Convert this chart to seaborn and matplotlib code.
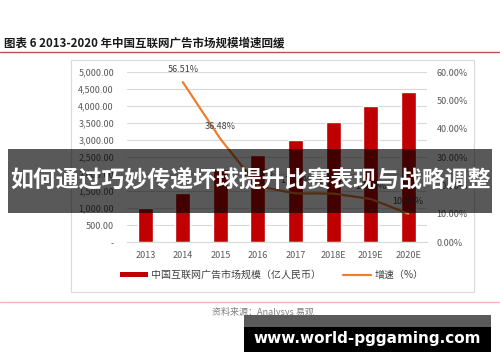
import numpy as np
import pandas as pd
import matplotlib
matplotlib.use("Agg")
import matplotlib.pyplot as plt
import seaborn as sns
from matplotlib.patches import Rectangle, Patch
from matplotlib.lines import Line2D

# -----------------------------
# Data
# -----------------------------

years = ["2013", "2014", "2015", "2016", "2017", "2018E", "2019E", "2020E"]
market_size = [1020, 1460, 2150, 2570, 3010, 3530, 4020, 4430]
growth = [np.nan, 56.51, 36.48, 19.78, 17.26, 17.21, 15.30, 10.08]

title_text = "图表 6 2013-2020 年中国互联网广告市场规模增速回缓"
bar_label = "中国互联网广告市场规模（亿人民币）"
line_label = "增速（%）"
source_text = "资料来源：Analysys 易观"
banner_text = "如何通过巧妙传递坏球提升比赛表现与战略调整"
watermark_text = "www.world-pggaming.com"

bar_color = "#C00000"
line_color = "#ED7D31"
tick_color = "#595959"
grid_color = "#D9D9D9"

# -----------------------------
# Style
# -----------------------------

sns.set_theme(style="white")
plt.rcParams['font.family'] = ['Noto Sans CJK SC', 'DejaVu Sans']
plt.rcParams['axes.unicode_minus'] = False

W, H = 500, 362
fig = plt.figure(figsize=(W / 100, H / 100), dpi=100)

# chart frame
fig.patches.append(Rectangle((70.7 / W, 1 - 292 / H), (474 - 70.7) / W, (292 - 60) / H,
                             transform=fig.transFigure, fill=False,
                             edgecolor="#D9D9D9", lw=0.8, zorder=0))

ax = fig.add_axes([126.5 / W, 1 - 242.3 / H, (427 - 126.5) / W, 170 / H])

df = pd.DataFrame({"year": years, "size": market_size, "growth": growth})

sns.barplot(data=df, x="year", y="size", color=bar_color, width=0.4,
            saturation=1, ax=ax, zorder=2)

ax.set_ylim(0, 5000)
ax.set_yticks(np.arange(0, 5001, 500))
ax.set_yticklabels(["-" if v == 0 else f"{v:,.2f}" for v in np.arange(0, 5001, 500)])
ax.set_xlim(-0.5, 7.5)
ax.set_xlabel("")
ax.set_ylabel("")
ax.grid(axis="y", color=grid_color, lw=0.8, zorder=0)
ax.set_axisbelow(True)
for s in ["top", "left", "right"]:
    ax.spines[s].set_visible(False)
ax.spines["bottom"].set_color(grid_color)
ax.spines["bottom"].set_linewidth(0.8)
ax.tick_params(axis="y", length=0, pad=9, labelsize=6.5, labelcolor=tick_color)
ax.tick_params(axis="x", length=0, pad=6, labelsize=6.5, labelcolor=tick_color)

# -----------------------------
# Growth line
# -----------------------------

ax2 = ax.twinx()
sns.lineplot(x=np.arange(len(years)), y=df["growth"], color=line_color,
             lw=1.6, ax=ax2, zorder=3)
ax2.set_ylim(0, 60)
ax2.set_yticks(np.arange(0, 61, 10))
ax2.set_yticklabels([f"{v:.2f}%" for v in np.arange(0, 61, 10)])
ax2.set_ylabel("")
for s in ["top", "left", "right", "bottom"]:
    ax2.spines[s].set_visible(False)
ax2.tick_params(axis="y", length=0, pad=7, labelsize=6.5, labelcolor=tick_color)
ax2.grid(False)

for i, g in enumerate(growth):
    if np.isnan(g):
        continue
    ax2.annotate(f"{g:.2f}%", (i, g), xytext=(0, 9), textcoords="offset points",
                 ha="center", va="center", fontsize=6.5, color="#404040")

# -----------------------------
# Legend
# -----------------------------

handles = [Patch(facecolor=bar_color, edgecolor="none"),
           Line2D([0], [0], color=line_color, lw=1.6)]
fig.legend(handles, [bar_label, line_label], loc="center",
           bbox_to_anchor=(272 / W, 1 - 275 / H), ncol=2, frameon=False,
           fontsize=7.2, handlelength=2.8, handleheight=0.5,
           columnspacing=2.2, handletextpad=0.3, labelcolor="#404040")

# -----------------------------
# Title, source, rules
# -----------------------------

fig.text(4 / W, 1 - 43 / H, title_text, fontsize=8.3, fontweight="bold",
         color="#1a1a1a", ha="left", va="center")
fig.add_artist(Line2D([0, 1], [1 - 52 / H, 1 - 52 / H], color="#C0504D", lw=1.0))
fig.add_artist(Line2D([0, 1], [1 - 302 / H, 1 - 302 / H], color="#F2B8B8", lw=1.0))
fig.text(212 / W, 1 - 312 / H, source_text, fontsize=6.5, color="#808080",
         ha="left", va="center")

# -----------------------------
# Banner overlay
# -----------------------------

fig.patches.append(Rectangle((8 / W, 1 - 213 / H), (492 - 8) / W, (213 - 149) / H,
                             transform=fig.transFigure, facecolor="black",
                             alpha=0.65, edgecolor="none", zorder=10))
fig.text(250 / W, 1 - 181 / H, banner_text, fontsize=16.5, fontweight="bold",
         color="white", ha="center", va="center", zorder=11)

# -----------------------------
# Watermark
# -----------------------------

fig.patches.append(Rectangle((244 / W, 1 - 327 / H), (491 - 244) / W, 12 / H,
                             transform=fig.transFigure, facecolor="#5A5A5A",
                             edgecolor="none", zorder=10))
fig.patches.append(Rectangle((244 / W, 1 - 352 / H), (491 - 244) / W, 25 / H,
                             transform=fig.transFigure, facecolor="black",
                             edgecolor="none", zorder=10))
fig.text(367 / W, 1 - 338 / H, watermark_text, fontsize=11, fontweight="bold",
         color="white", ha="center", va="center", zorder=11,
         family=["DejaVu Sans"])

fig.savefig("out.png", dpi=100)
